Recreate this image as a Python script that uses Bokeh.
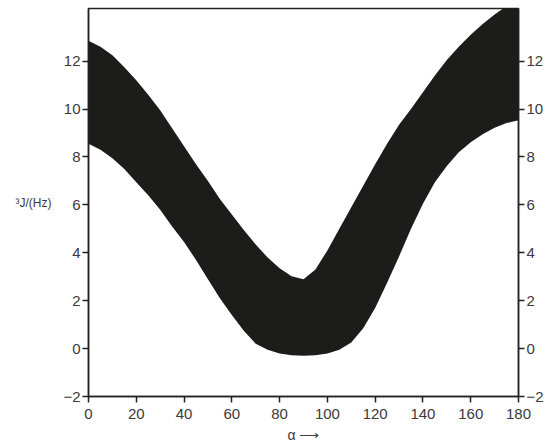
from bokeh.plotting import figure
from bokeh.models import LinearAxis, FixedTicker, Range1d, Label
from bokeh.embed import file_html
from bokeh.resources import INLINE

# dihedral angle (degrees)
alpha = [0, 5, 10, 15, 20, 25, 30, 35, 40, 45, 50, 55, 60, 65, 70, 75, 80, 85, 90,
         95, 100, 105, 110, 115, 120, 125, 130, 135, 140, 145, 150, 155, 160, 165, 170, 175, 180]
# lower bound of 3J (Hz)
j_lower = [8.55, 8.3, 7.95, 7.5, 6.95, 6.4, 5.8, 5.1, 4.45, 3.7, 2.9, 2.1, 1.4, 0.75, 0.2, -0.05, -0.2, -0.28, -0.3,
           -0.28, -0.2, -0.05, 0.25, 0.85, 1.7, 2.75, 3.85, 5.0, 6.05, 6.95, 7.62, 8.2, 8.62, 8.95, 9.22, 9.42, 9.53]
# upper bound of 3J (Hz)
j_upper = [12.85, 12.6, 12.25, 11.75, 11.2, 10.6, 9.95, 9.2, 8.45, 7.7, 7.0, 6.25, 5.6, 4.95, 4.35, 3.8, 3.35, 3.02, 2.9,
           3.3, 4.1, 5.0, 5.9, 6.8, 7.7, 8.55, 9.35, 10.0, 10.7, 11.4, 12.05, 12.6, 13.1, 13.55, 13.95, 14.3, 14.6]

x_ticks = [0, 20, 40, 60, 80, 100, 120, 140, 160, 180]
y_ticks = [-2, 0, 2, 4, 6, 8, 10, 12]

FONT = "Liberation Sans"
AX = "#222222"
TXT = "#3a3a3a"

p = figure(width=546, height=447, output_backend="svg", toolbar_location=None,
           x_range=Range1d(0, 180), y_range=Range1d(-2, 14.2),
           min_border_left=88, min_border_right=27, min_border_top=8, min_border_bottom=51)

p.varea(x=alpha, y1=j_lower, y2=j_upper, fill_color="#1c1c1a")

p.xgrid.visible = False
p.ygrid.visible = False
p.background_fill_color = "white"
p.border_fill_color = "white"
p.outline_line_color = AX
p.outline_line_width = 1.5


def style(ax, ticks):
    ax.ticker = FixedTicker(ticks=ticks)
    ax.axis_line_color = AX
    ax.axis_line_width = 1.5
    ax.major_tick_line_color = AX
    ax.major_tick_line_width = 1.5
    ax.major_tick_out = 6
    ax.major_tick_in = 0
    ax.minor_tick_line_color = None
    ax.major_label_text_font = FONT
    ax.major_label_text_font_size = "15px"
    ax.major_label_text_color = TXT
    ax.major_label_standoff = 2


style(p.xaxis[0], x_ticks)
style(p.yaxis[0], y_ticks)
p.xaxis[0].major_label_standoff = 6
p.xaxis[0].axis_label = "α ⟶"
p.xaxis[0].axis_label_text_font = FONT
p.xaxis[0].axis_label_text_font_size = "14px"
p.xaxis[0].axis_label_text_font_style = "normal"
p.xaxis[0].axis_label_text_color = TXT
p.xaxis[0].axis_label_standoff = 5

right = LinearAxis()
style(right, y_ticks)
p.add_layout(right, "right")

yl = p.yaxis[0]
try:
    yl.axis_label_orientation = "horizontal"
    yl.axis_label = "³J/(Hz)"
    yl.axis_label_text_font = FONT
    yl.axis_label_text_font_size = "12px"
    yl.axis_label_text_font_style = "normal"
    yl.axis_label_text_color = TXT
    yl.axis_label_standoff = 9
except AttributeError:
    p.add_layout(Label(x=12, y=235, x_units="screen", y_units="screen", text="³J/(Hz)",
                       text_font=FONT, text_font_size="12px", text_color=TXT,
                       text_baseline="middle", text_align="left"))

open("out.html", "w").write(file_html(p, INLINE))
